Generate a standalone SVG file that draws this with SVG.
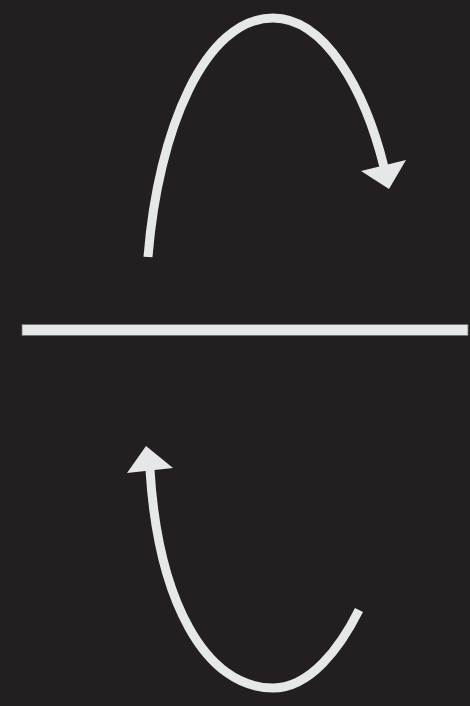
<svg xmlns="http://www.w3.org/2000/svg" width="470" height="706" viewBox="0 0 470 706">
<style>
.arc{fill:none;stroke:#e6e7e8;stroke-width:9}
.head{fill:#e6e7e8}
</style>
<rect width="470" height="706" fill="#231f20"/>
<g id="divider">
<rect x="22" y="324.5" width="446" height="11" fill="#e6e7e8" stroke="#6d6e71" stroke-width="0.8"/>
</g>
<g id="connectors">
<path class="arc" d="M148,257 C158,130 205,18 273,18 C325,18 365,90 384,167"/>
<polygon class="head" points="361,171 406,160 389,189"/>
<path class="arc" d="M359,610 C340,648 310,688 273,688 C205,688 158,600 150,470"/>
<polygon class="head" points="127,473 173,468 146,446"/>
</g>
</svg>
